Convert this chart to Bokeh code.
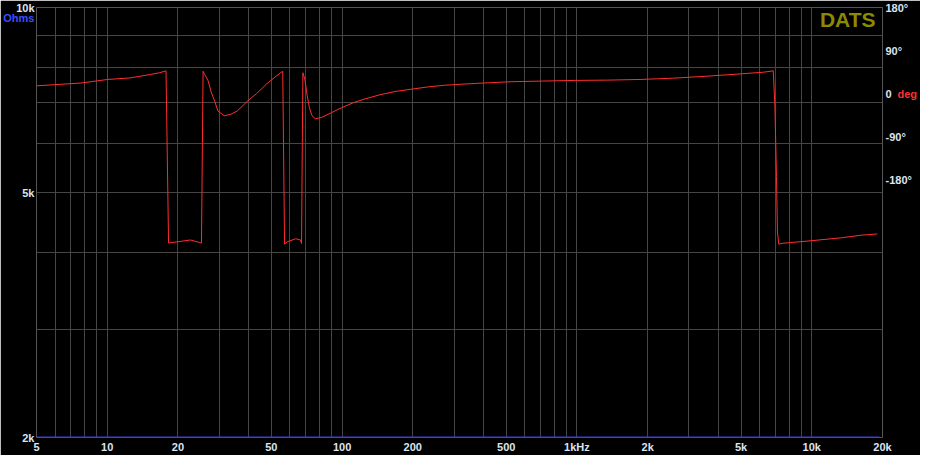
from bokeh.plotting import figure
from bokeh.models import Range1d, LinearAxis, LogAxis, FixedTicker, Label, LinearScale
from bokeh.embed import file_html
from bokeh.resources import INLINE

# ---- data ----
freq_hz = [5, 6.41, 7.76, 10.05, 12.5, 15.1, 16.7, 17.8,
           18.25, 20.2, 22.6, 24.8, 25.2,
           25.6, 26.0, 26.9, 27.7, 28.7, 29.6, 31.5, 33.6, 35.8, 39.4, 43.3, 47.7, 52.5, 55.9,
           56.9, 58.7, 63.5, 66.6, 67.2,
           68.1, 69.4, 71.0, 72.6, 74.5, 76.9, 81.9, 90.2, 99.2,
           112.6, 124, 145, 170, 200, 234, 275, 322, 402, 520, 714, 983, 1350, 1857, 2554,
           3512, 4826, 6228, 6853,
           6965, 7073, 7142, 7236,
           7541, 9731, 13380, 16190, 18995]
phase_deg = [16, 19.4, 22, 29.4, 32.6, 39.4, 43.4, 47.4,
             -313, -310, -306.6, -312, -313,
             46.6, 40, 26.6, 3.4, -16.6, -36.6, -46.6, -43.4, -36.6, -16.6, 0, 20, 36.6, 46.6,
             -315, -310, -304, -306.6, -314,
             43.4, 30, -3.4, -30, -46.6, -53, -50, -40, -30,
             -18.6, -12, -2.6, 4.6, 9.4, 14, 17.4, 19.4, 22, 24.6, 26, 27.4, 28, 29.4, 32,
             36, 40.6, 44.6, 47.4,
             -26, -173.4, -290, -315.4,
             -313.4, -308.6, -302, -296.6, -294]

imp_freq_hz = [5, 19400]
imp_ohms = [2000, 2000]

x_ticks = [5, 10, 20, 50, 100, 200, 500, 1000, 2000, 5000, 10000, 20000]
x_tick_labels = ["5", "10", "20", "50", "100", "200", "500", "1kHz", "2k", "5k", "10k", "20k"]
x_minor = [6, 7, 8, 9, 30, 40, 60, 70, 80, 90, 300, 400, 600, 700, 800, 900,
           3000, 4000, 6000, 7000, 8000, 9000]
y_ticks = [2000, 5000, 10000]
y_tick_labels = ["2k", "5k", "10k"]
y_minor = [3000, 4000, 6000, 7000, 8000, 9000]
phase_ticks = [-180, -90, 0, 90, 180]
phase_tick_labels = ["-180°", "-90°", "0", "90°", "180°"]
unit_left = "Ohms"
unit_left_at = 9600
unit_right = "deg"
unit_right_at = 0

# ---- style ----
BG = "black"
GRID = "#454545"
TXT = "#dce4f0"
FONT = "Liberation Sans"

p = figure(width=920, height=455, x_axis_type="log", y_axis_type="log",
           x_range=(5, 20000), y_range=(2000, 10000),
           output_backend="svg", toolbar_location=None,
           background_fill_color=BG, border_fill_color=BG,
           min_border_left=34, min_border_right=33, min_border_top=7, min_border_bottom=16)
p.outline_line_color = "#555555"
p.extra_y_ranges = {"phase": Range1d(-720, 180)}
p.extra_y_scales = {"phase": LinearScale()}

# x axis
xa = p.xaxis[0]
xa.ticker = FixedTicker(ticks=x_ticks, minor_ticks=x_minor)
xa.major_label_overrides = {t: l for t, l in zip(x_ticks, x_tick_labels)}
# y axis (impedance)
ya = p.yaxis[0]
ya.ticker = FixedTicker(ticks=y_ticks, minor_ticks=y_minor)
ya.major_label_overrides = {t: l for t, l in zip(y_ticks, y_tick_labels)}
# unit "Ohms" in blue (stacked left axis pulled back over the first one)
ua = LogAxis(ticker=FixedTicker(ticks=[unit_left_at]),
             major_label_overrides={unit_left_at: unit_left})
p.add_layout(ua, "left")
# right phase axis
ra = LinearAxis(y_range_name="phase",
                ticker=FixedTicker(ticks=phase_ticks),
                major_label_overrides={t: l for t, l in zip(phase_ticks, phase_tick_labels)})
p.add_layout(ra, "right")
# unit "deg" in red
da = LinearAxis(y_range_name="phase", ticker=FixedTicker(ticks=[unit_right_at]),
                major_label_overrides={unit_right_at: unit_right})
p.add_layout(da, "right")

for ax in [xa, ya, ra, ua, da]:
    ax.axis_line_color = None
    ax.major_tick_line_color = None
    ax.minor_tick_line_color = None
    ax.major_tick_out = 0
    ax.minor_tick_out = 0
    ax.major_label_standoff = 3
    ax.major_label_text_font = FONT
    ax.major_label_text_font_style = "bold"
    ax.major_label_text_font_size = "11px"
    ax.major_label_text_color = TXT
ya.major_label_standoff = 2
ua.major_label_standoff = -21
ua.major_label_text_color = "#3d4dff"
da.major_label_standoff = -17
da.major_label_text_color = "#ff3030"

for g in [p.xgrid[0], p.ygrid[0]]:
    g.grid_line_color = GRID
    g.minor_grid_line_color = GRID
    g.grid_line_width = 1
    g.minor_grid_line_width = 1

# impedance trace (sits on the floor of the chart)
p.line(imp_freq_hz, imp_ohms, line_color="#3c3ce0", line_width=2)
# phase trace
p.line(freq_hz, phase_deg, y_range_name="phase", line_color="#ff2d2d", line_width=1)

# brand label inside the plot area
p.add_layout(Label(x=20000, y=10000, x_offset=-7, y_offset=0, text="DATS",
                   text_align="right", text_baseline="top",
                   text_font=FONT, text_font_style="bold", text_font_size="21px",
                   text_color="#8b8b00"))

open("out.html", "w").write(file_html(p, INLINE))
